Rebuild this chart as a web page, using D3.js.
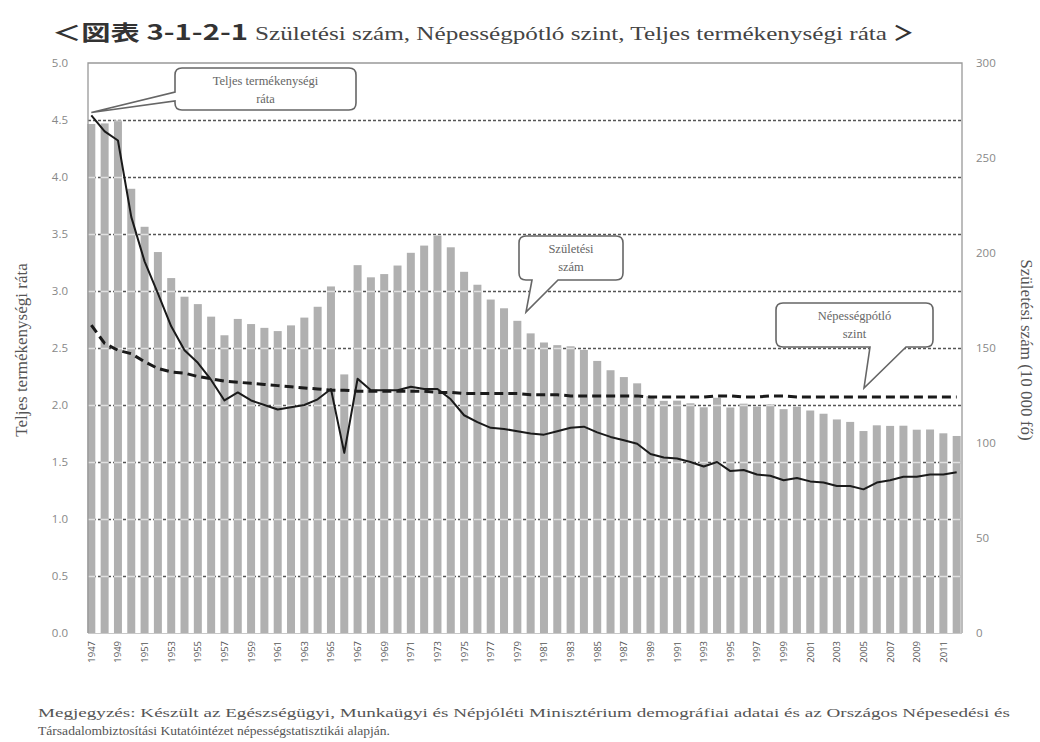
<!DOCTYPE html>
<html><head><meta charset="utf-8">
<script src="https://cdn.jsdelivr.net/npm/d3@7"></script>
<style>body{margin:0;background:#fff}svg{display:block}</style>
</head><body>
<svg id="c" width="1040" height="742"></svg>
<script>
const years = d3.range(1947, 2013);
const births = [267.9,268.2,269.7,233.8,213.8,200.5,186.8,177.0,173.1,166.5,156.7,165.3,162.6,160.6,158.9,161.9,166.0,171.7,182.4,136.1,193.6,187.2,188.9,193.4,200.1,203.9,209.2,203.0,190.1,183.3,175.5,170.9,164.3,157.7,152.9,151.5,150.9,149.0,143.2,138.3,134.7,131.4,124.7,122.2,122.3,120.9,118.8,123.8,118.7,120.7,119.2,120.3,117.8,119.1,117.1,115.4,112.4,111.1,106.3,109.3,109.0,109.1,107.0,107.1,105.1,103.7];
const tfr = [4.54,4.40,4.32,3.65,3.26,2.98,2.69,2.48,2.37,2.22,2.04,2.11,2.04,2.00,1.96,1.98,2.00,2.05,2.14,1.58,2.23,2.13,2.13,2.13,2.16,2.14,2.14,2.05,1.91,1.85,1.80,1.79,1.77,1.75,1.74,1.77,1.80,1.81,1.76,1.72,1.69,1.66,1.57,1.54,1.53,1.50,1.46,1.50,1.42,1.43,1.39,1.38,1.34,1.36,1.33,1.32,1.29,1.29,1.26,1.32,1.34,1.37,1.37,1.39,1.39,1.41];
const replacement = [2.70,2.54,2.48,2.45,2.38,2.32,2.29,2.28,2.25,2.23,2.21,2.20,2.19,2.18,2.17,2.16,2.15,2.14,2.13,2.13,2.12,2.12,2.12,2.12,2.12,2.12,2.11,2.11,2.10,2.10,2.10,2.10,2.10,2.09,2.09,2.09,2.08,2.08,2.08,2.08,2.08,2.08,2.07,2.07,2.07,2.07,2.07,2.08,2.08,2.07,2.07,2.08,2.08,2.07,2.07,2.07,2.07,2.07,2.07,2.07,2.07,2.07,2.07,2.07,2.07,2.07];
const leftTicks = [0,0.5,1,1.5,2,2.5,3,3.5,4,4.5,5];
const rightTicks = [0,50,100,150,200,250,300];
const titleHead = "＜図表 3-1-2-1";
const titleText = "Születési szám, Népességpótló szint, Teljes termékenységi ráta";
const titleTail = "＞";
const leftTitle = "Teljes termékenységi ráta";
const rightTitle = "Születési szám (10 000 fő)";
const noteLines = ["Megjegyzés: Készült az Egészségügyi, Munkaügyi és Népjóléti Minisztérium demográfiai adatai és az Országos Népesedési és",
  "Társadalombiztosítási Kutatóintézet népességstatisztikái alapján."];
const callouts = [
  {lines:["Teljes termékenységi","ráta"]},
  {lines:["Születési","szám"]},
  {lines:["Népességpótló","szint"]}
];

const svg = d3.select("#c");
const L = 88, R = 962, T = 63, B = 633;
const x = d3.scaleBand().domain(years).range([86, 962]).paddingInner(0.4).paddingOuter(0.1);
const yL = d3.scaleLinear().domain([0,5]).range([B,T]);
const yR = d3.scaleLinear().domain([0,300]).range([B,T]);
const cx = y => x(y) + x.bandwidth()/2;

// title
const tg = svg.append("g");
tg.append("text").attr("x",52).attr("y",40).attr("font-family","Noto Sans CJK JP").attr("font-weight","bold")
  .attr("font-size",21).attr("fill","#333").attr("textLength",196).attr("lengthAdjust","spacingAndGlyphs").text(titleHead);
tg.append("text").attr("x",255).attr("y",40).attr("font-family","Liberation Serif")
  .attr("font-size",19).attr("fill","#444").attr("textLength",632).attr("lengthAdjust","spacingAndGlyphs").text(titleText);
tg.append("text").attr("x",893).attr("y",40).attr("font-family","Noto Sans CJK JP").attr("font-weight","bold")
  .attr("font-size",21).attr("fill","#333").text(titleTail);

// dark grid behind bars
svg.append("g").selectAll("line").data(leftTicks.filter(d=>d>0&&d<5)).join("line")
  .attr("x1",L).attr("x2",R).attr("y1",d=>Math.round(yL(d))+0.5).attr("y2",d=>Math.round(yL(d))+0.5)
  .attr("stroke","#555").attr("stroke-width",1.5).attr("stroke-dasharray","3,2");

// bars
const defs = svg.append("defs");
const cp = defs.append("clipPath").attr("id","barclip");
cp.selectAll("rect").data(years).join("rect")
  .attr("x",d=>x(d)).attr("width",x.bandwidth()).attr("y",(d,i)=>yR(births[i])).attr("height",(d,i)=>B-yR(births[i]));
svg.append("g").selectAll("rect").data(years).join("rect")
  .attr("x",d=>x(d)).attr("width",x.bandwidth()).attr("y",(d,i)=>yR(births[i])).attr("height",(d,i)=>B-yR(births[i]))
  .attr("fill","#b0b0b0");
// light grid over bars
svg.append("g").attr("clip-path","url(#barclip)").selectAll("line").data(leftTicks.filter(d=>d>0&&d<5)).join("line")
  .attr("x1",L).attr("x2",R).attr("y1",d=>Math.round(yL(d))+0.5).attr("y2",d=>Math.round(yL(d))+0.5)
  .attr("stroke","#e0e0e0").attr("stroke-width",1.5);

// frame
svg.append("path").attr("d",`M${L},${B}V${T}H${R}V${B}`).attr("fill","none").attr("stroke","#999").attr("stroke-width",1.3);
svg.append("line").attr("x1",L).attr("x2",R).attr("y1",B+0.5).attr("y2",B+0.5).attr("stroke","#c8c8c8");

// replacement line
svg.append("path").datum(years).attr("fill","none").attr("stroke","#1a1a1a").attr("stroke-width",3)
  .attr("stroke-dasharray","9,5")
  .attr("d",d3.line().x(d=>cx(d)).y((d,i)=>yL(replacement[i])));
// tfr line
svg.append("path").datum(years).attr("fill","none").attr("stroke","#1a1a1a").attr("stroke-width",2)
  .attr("stroke-linejoin","round")
  .attr("d",d3.line().x(d=>cx(d)).y((d,i)=>yL(tfr[i])));

// ticks
svg.append("g").selectAll("text").data(leftTicks).join("text")
  .attr("x",68).attr("y",d=>yL(d)+4).attr("text-anchor","end")
  .attr("font-family","Open Sans").attr("font-size",11.5).attr("fill","#888").text(d3.format(".1f"));
svg.append("g").selectAll("text").data(rightTicks).join("text")
  .attr("x",976).attr("y",d=>yR(d)+4).attr("text-anchor","start")
  .attr("font-family","Open Sans").attr("font-size",11.5).attr("fill","#888").text(d=>d);

// axis titles
svg.append("text").attr("transform","translate(27,350) rotate(-90)").attr("text-anchor","middle")
  .attr("font-family","Liberation Serif").attr("font-size",17).attr("fill","#555").text(leftTitle);
svg.append("text").attr("transform","translate(1021,350) rotate(90)").attr("text-anchor","middle")
  .attr("font-family","Liberation Serif").attr("font-size",17).attr("fill","#555").text(rightTitle);

// x labels
svg.append("g").selectAll("text").data(years.filter(d=>(d-1947)%2===0)).join("text")
  .attr("transform",d=>`translate(${cx(d)+3.5},641) rotate(-90)`).attr("text-anchor","end")
  .attr("font-family","Open Sans").attr("font-size",9.5).attr("fill","#555").text(d=>d);

// callouts
function bubble(bx,by,bw,bh,r,side,b1,b2,tx,ty){
  let p = `M${bx+r},${by}H${bx+bw-r}Q${bx+bw},${by} ${bx+bw},${by+r}V${by+bh-r}Q${bx+bw},${by+bh} ${bx+bw-r},${by+bh}`;
  if(side==="bottom"){ p += `H${b2}L${tx},${ty}L${b1},${by+bh}`; }
  p += `H${bx+r}Q${bx},${by+bh} ${bx},${by+bh-r}`;
  if(side==="left"){ p += `V${b2}L${tx},${ty}L${bx},${b1}`; }
  p += `V${by+r}Q${bx},${by} ${bx+r},${by}Z`;
  return p;
}
const cg = svg.append("g");
const cdefs = [
  {bx:175,by:68,bw:181,bh:42,side:"left",b1:92,b2:101,tx:cx(1947),ty:yL(tfr[0])-3},
  {bx:519,by:236,bw:104,bh:44,side:"bottom",b1:532,b2:558,tx:526,ty:312},
  {bx:776,by:303,bw:157,bh:44,side:"bottom",b1:870,b2:906,tx:864,ty:388}
];
cdefs.forEach((c,i)=>{
  cg.append("path").attr("d",bubble(c.bx,c.by,c.bw,c.bh,7,c.side,c.b1,c.b2,c.tx,c.ty))
    .attr("fill","#fff").attr("stroke","#666").attr("stroke-width",1.6);
  callouts[i].lines.forEach((t,j)=>{
    cg.append("text").attr("x",c.bx+c.bw/2).attr("y",c.by+17+j*18).attr("text-anchor","middle")
      .attr("font-family","Liberation Serif").attr("font-size",12.5).attr("fill","#666").text(t);
  });
});

// footnote
svg.append("g").selectAll("text").data(noteLines).join("text")
  .attr("x",38).attr("y",(d,i)=>717+i*18)
  .attr("font-family","Liberation Serif").attr("font-size",13.5).attr("fill","#555")
  .attr("textLength",(d,i)=>i===0?972:352).attr("lengthAdjust","spacingAndGlyphs").text(d=>d);
</script>
</body></html>
